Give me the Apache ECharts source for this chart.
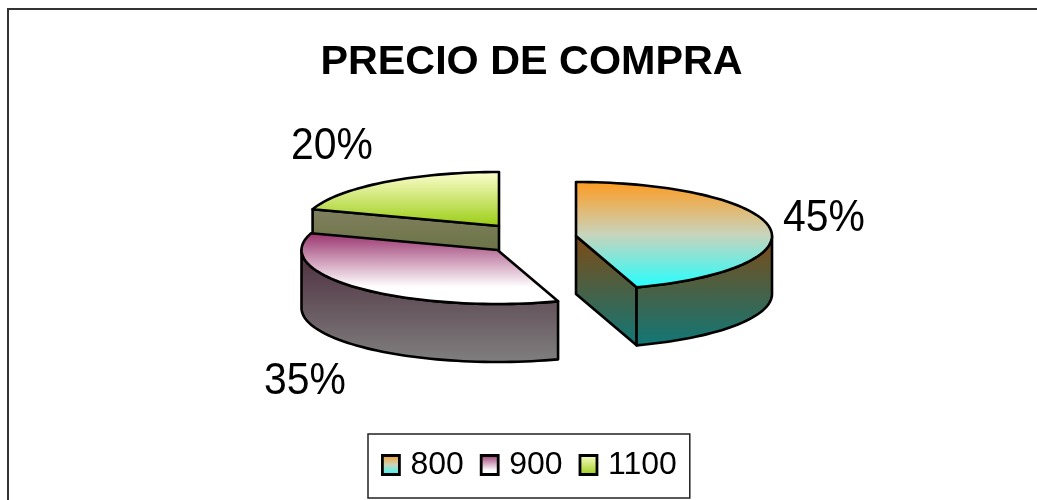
<!DOCTYPE html>
<html><head><meta charset="utf-8">
<style>html,body{margin:0;padding:0;background:#fff}#c{width:1037px;height:500px}</style>
<script src="https://cdn.jsdelivr.net/npm/echarts@6/dist/echarts.min.js"></script>
</head><body><div id="c"></div>
<script>
const categories = ['800', '900', '1100'];
const percentValues = [45, 35, 20];
const topColors = [
  [[0, '#FF9A1E'], [0.5, '#C8D4BC'], [1, '#22FFFF']],
  [[0, '#98306C'], [0.75, '#FFFFFF'], [1, '#FFFFFF']],
  [[0, '#FFFFD2'], [1, '#99CC11']]
];
const sideColors = [
  [[0, '#7F4A14'], [1, '#107878']],
  [[0, '#4C2C3C'], [1, '#808080']],
  [[0, '#80805E'], [1, '#5C6A34']]
];

// layout of the projected pie
const RX = 196, RY = 54, DEPTH = 58;
const apexes = [[576, 236], [497.5, 250], [499, 226]];
const labelPos = [[783, 241], [264, 404], [291, 169]];
const drawOrder = [30, 20, 10];

const D2R = Math.PI / 180;
const lin = (c) => new echarts.graphic.LinearGradient(0, 0, 0, 1, c.map(s => ({offset: s[0], color: s[1]})));
const ang = (p) => p * 3.6;
const pt = (c, a, dz) => [c[0] + RX * Math.sin(a * D2R), c[1] - RY * Math.cos(a * D2R) + (dz || 0)];
function arc(c, a0, a1, dz) {
  const out = [], n = Math.max(2, Math.ceil(Math.abs(a1 - a0) / 2));
  for (let i = 0; i <= n; i++) out.push(pt(c, a0 + (a1 - a0) * i / n, dz));
  return out;
}
const lineStyle = (fill) => ({fill: fill, stroke: '#000', lineWidth: 2.6, lineJoin: 'round'});

function makeRender(idx) {
  return function (params, api) {
    const value = api.value(0);
    const start = percentValues.slice(0, idx).reduce((s, v) => s + v, 0);
    const a0 = ang(start), a1 = ang(start + value);
    const c = apexes[idx];
    const kids = [];
    const face = (pts, fill) => kids.push({type: 'polygon', shape: {points: pts}, style: lineStyle(fill)});
    if (Math.sin(a0 * D2R) < -1e-6) {
      const p = pt(c, a0);
      face([c, p, [p[0], p[1] + DEPTH], [c[0], c[1] + DEPTH]], lin(sideColors[idx]));
    }
    if (Math.sin(a1 * D2R) > 1e-6) {
      const p = pt(c, a1);
      face([c, p, [p[0], p[1] + DEPTH], [c[0], c[1] + DEPTH]], lin(sideColors[idx]));
    }
    const s0 = Math.max(a0, 90), s1 = Math.min(a1, 270);
    if (s1 > s0) face(arc(c, s0, s1, 0).concat(arc(c, s1, s0, DEPTH)), lin(sideColors[idx]));
    face([c].concat(arc(c, a0, a1, 0)), lin(topColors[idx]));
    kids.push({type: 'text', x: labelPos[idx][0], y: labelPos[idx][1], scaleX: 0.93,
      style: {text: value + '%', fill: '#000', font: '44px "Liberation Sans"', verticalAlign: 'bottom', align: 'left'}});
    return {type: 'group', children: kids};
  };
}

const chart = echarts.init(document.getElementById('c'), null, {renderer: 'canvas'});
chart.setOption({
  animation: false,
  backgroundColor: '#fff',
  title: {text: 'PRECIO DE COMPRA', left: 526.5, top: 37, textAlign: 'center',
    textStyle: {fontFamily: 'Liberation Sans', fontSize: 41.3, fontWeight: 'bold', color: '#000'}},
  legend: {
    left: 368, top: 434,
    data: categories.map((n, i) => ({name: n, icon: 'rect', itemStyle: {color: lin(topColors[i]), borderColor: '#000', borderWidth: 2.8}})),
    itemWidth: 17, itemHeight: 19, itemGap: 16,
    padding: [15, 13, 17, 13],
    borderColor: '#222', borderWidth: 1.5,
    selectedMode: false,
    textStyle: {fontFamily: 'Liberation Sans', fontSize: 32, color: '#000', padding: [0, 0, 0, 6]}
  },
  graphic: [{type: 'polyline', silent: true, shape: {points: [[8, 500], [8, 9], [1037, 9]]}, style: {fill: null, stroke: '#333', lineWidth: 2}}],
  series: categories.map((n, i) => ({
    type: 'custom', name: n, coordinateSystem: 'none', z: drawOrder[i], silent: true,
    itemStyle: {color: topColors[i][0][1]},
    renderItem: makeRender(i),
    data: [[percentValues[i]]]
  }))
});
</script></body></html>
